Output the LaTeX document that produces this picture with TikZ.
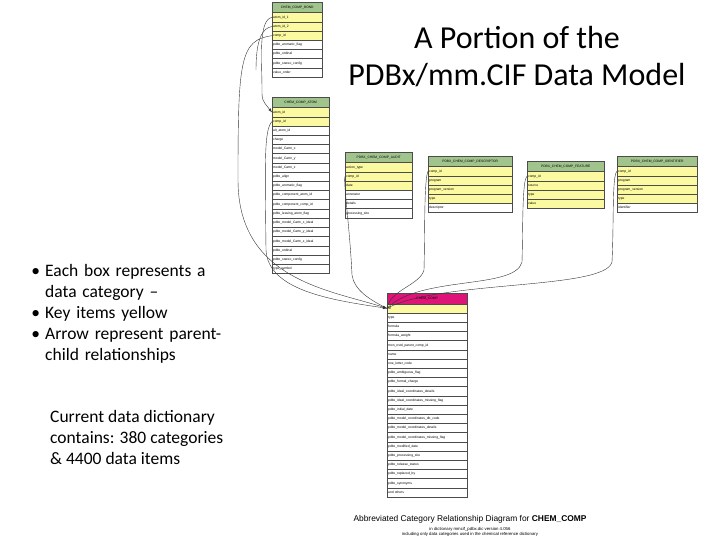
\documentclass[tikz,border=0pt]{standalone}
\usepackage{fontspec}
\setmainfont{Carlito}
\newfontfamily\tablefont{Liberation Sans}
\usetikzlibrary{positioning}
\definecolor{keyyellow}{RGB}{252,250,160}
\definecolor{headgreen}{RGB}{160,196,140}
\definecolor{headpink}{RGB}{222,20,120}
\tikzset{
  row/.style={draw=black!70, line width=0.4pt, anchor=north west, inner sep=1pt,
    minimum height=9.2pt, text height=2.4pt, text depth=0.6pt, align=left,
    font=\tablefont\fontsize{3.3}{3.8}\selectfont},
  head/.style={row, align=center, minimum height=10.5pt},
  link/.style={draw=black!80, line width=0.4pt},
}
% #1 name, #2 x, #3 y, #4 width, #5 header, #6 header colour, #7 key rows, #8 items
\newcommand\dbtable[8]{
  \node[head, fill=#6, text width=#4pt-2pt] (#1-0) at (#2,#3) {#5};
  \foreach \item [count=\i] in {#8} {
    \ifnum\i>#7\def\rowfill{white}\else\def\rowfill{keyyellow}\fi
    \node[row, fill=\rowfill, text width=#4pt-2pt] (#1-\i) at ({#2},{#3+10.5+(\i-1)*9.2}) {\item};
  }
}
\begin{document}
\begin{tikzpicture}[x=1pt,y=-1pt]
\useasboundingbox (0,0) rectangle (720,540);

\dbtable{bond}{272}{2}{50}{CHEM\_COMP\_BOND}{headgreen}{3}{atom\_id\_1,atom\_id\_2,comp\_id,pdbx\_aromatic\_flag,pdbx\_ordinal,pdbx\_stereo\_config,value\_order}
\dbtable{atom}{272}{97}{57}{CHEM\_COMP\_ATOM}{headgreen}{2}{atom\_id,comp\_id,alt\_atom\_id,charge,model\_Cartn\_x,model\_Cartn\_y,model\_Cartn\_z,pdbx\_align,pdbx\_aromatic\_flag,pdbx\_component\_atom\_id,pdbx\_component\_comp\_id,pdbx\_leaving\_atom\_flag,pdbx\_model\_Cartn\_x\_ideal,pdbx\_model\_Cartn\_y\_ideal,pdbx\_model\_Cartn\_z\_ideal,pdbx\_ordinal,pdbx\_stereo\_config,type\_symbol}
\dbtable{audit}{345}{152}{67}{PDBX\_CHEM\_COMP\_AUDIT}{headgreen}{3}{action\_type,comp\_id,date,annotator,details,processing\_site}
\dbtable{descr}{428}{156}{84}{PDBX\_CHEM\_COMP\_DESCRIPTOR}{headgreen}{4}{comp\_id,program,program\_version,type,descriptor}
\dbtable{feat}{527}{161}{77}{PDBX\_CHEM\_COMP\_FEATURE}{headgreen}{4}{comp\_id,source,type,value}
\dbtable{ident}{617}{156}{80}{PDBX\_CHEM\_COMP\_IDENTIFIER}{headgreen}{4}{comp\_id,program,program\_version,type,identifier}
\dbtable{comp}{387}{293}{80}{CHEM\_COMP}{headpink}{1}{id,type,formula,formula\_weight,mon\_nstd\_parent\_comp\_id,name,one\_letter\_code,pdbx\_ambiguous\_flag,pdbx\_formal\_charge,pdbx\_ideal\_coordinates\_details,pdbx\_ideal\_coordinates\_missing\_flag,pdbx\_initial\_date,pdbx\_model\_coordinates\_db\_code,pdbx\_model\_coordinates\_details,pdbx\_model\_coordinates\_missing\_flag,pdbx\_modified\_date,pdbx\_processing\_site,pdbx\_release\_status,pdbx\_replaced\_by,pdbx\_synonyms,and others}

% parent-child links
\path[link,->,>=latex] (bond-1.west) .. controls (258,20) and (262,60) .. (262,90) .. controls (262,100) .. (atom-1.west);
\path[link] (bond-2.west) .. controls (262,28) and (256,40) .. (256,70);
\path[link,->,>=latex] (bond-3.west) .. controls (240,40) and (238,60) .. (238,180) .. controls (238,280) and (330,290) .. (comp-1.west);
\path[link,->,>=latex] (atom-2.west) .. controls (264,130) and (265,160) .. (266,250) .. controls (268,290) and (330,300) .. (comp-1.west);
\path[link] (audit-2.west) .. controls (343,180) and (350,230) .. (352,275) .. controls (354,290) and (370,300) .. (comp-1.west);
\path[link] (descr-1.west) .. controls (424,180) and (425,230) .. (424,270) .. controls (420,285) and (390,290) .. (comp-1.west);
\path[link] (feat-1.west) .. controls (522,180) and (523,230) .. (522,262) .. controls (515,290) and (420,275) .. (comp-1.west);
\path[link] (ident-1.west) .. controls (612,175) and (614,220) .. (612,262) .. controls (605,290) and (440,280) .. (comp-1.west);

% title and notes
\node[font=\fontsize{32}{37}\selectfont, align=center] (title) at (517,57) {A Portion of the\\PDBx/mm.CIF Data Model};
\node[font=\fontsize{17.5}{21}\selectfont, anchor=north west, align=left, text width=215pt, inner sep=0pt] (notes) at (20,247) {%
\raggedright
\begin{itemize}\setlength{\itemsep}{0pt}\setlength{\parskip}{0pt}\setlength{\leftmargin}{20pt}
\item Each box represents a\newline data category --
\item Key items yellow
\item Arrow represent parent-\newline child relationships
\end{itemize}};
\node[font=\fontsize{17.5}{21}\selectfont, anchor=north west, align=left, inner sep=0pt] (summary) at (50,410) {Current data dictionary\\contains: 380 categories\\\& 4400 data items};
\node[font=\tablefont\fontsize{8.4}{9}\selectfont] (caption) at (470,519) {Abbreviated Category Relationship Diagram for \textbf{CHEM\_COMP}};
\node[font=\tablefont\fontsize{4.3}{4.8}\selectfont, align=center, below=0pt of caption, inner sep=0.5pt] (subcap) {in dictionary mmcif\_pdbx.dic version 4.056\\including only data categories used in the chemical reference dictionary};
\end{tikzpicture}
\end{document}
